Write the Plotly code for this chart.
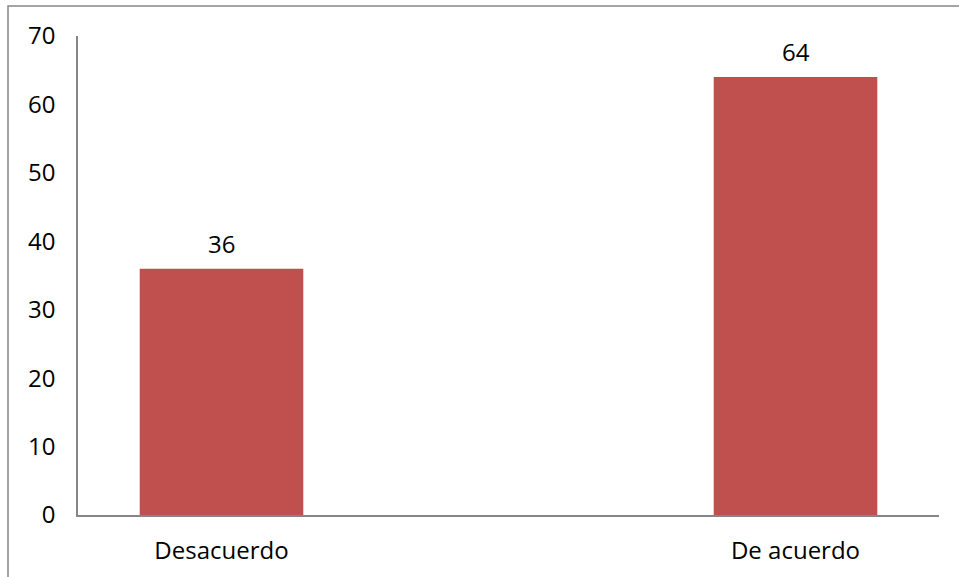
import plotly.graph_objects as go

categories = ["Desacuerdo", "", "De acuerdo"]
values = [36, None, 64]
labels = ["36", "", "64"]

W, H = 959, 577
L, R, T, B = 78, 20, 36, 62
pw, ph = W - L - R, H - T - B
FONT = "Open Sans"
FS = 24

fig = go.Figure()
fig.add_trace(go.Bar(
    x=[0, 1, 2], y=values,
    marker=dict(color="#C0504D", line=dict(width=0)),
    width=0.57,
))
for i, (v, t) in enumerate(zip(values, labels)):
    if v is not None:
        fig.add_annotation(x=i, y=v, text=t, showarrow=False, yanchor="bottom",
                           yshift=7, font=dict(size=FS, color="#000000", family=FONT))
fig.update_layout(
    template="none",
    width=W, height=H, margin=dict(l=L, r=R, t=T, b=B, pad=0),
    paper_bgcolor="white", plot_bgcolor="white", showlegend=False,
    font=dict(family=FONT, size=FS, color="#000000"),
    xaxis=dict(range=[-0.5, 2.5], tickvals=[0, 1, 2], ticktext=categories,
               showgrid=False, zeroline=False, showline=True, automargin=False,
               linecolor="#868686", linewidth=1.5, ticks="", ticklabelstandoff=13),
    yaxis=dict(range=[0, 70], dtick=10, showgrid=False, zeroline=False, automargin=False,
               showline=True, linecolor="#868686", linewidth=1.5, ticks="",
               ticklabelstandoff=16),
    shapes=[dict(type="rect", xref="paper", yref="paper",
                 x0=(8 - L) / pw, x1=(W + 20 - L) / pw,
                 y0=-(H + 20 - T - ph) / ph, y1=(T + ph - 6) / ph,
                 line=dict(color="#868686", width=1.5), fillcolor="rgba(0,0,0,0)",
                 layer="below")],
)
fig.write_html("out.html")
